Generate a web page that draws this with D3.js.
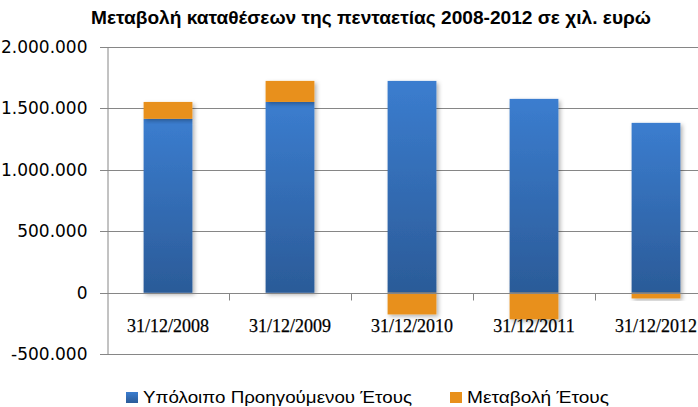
<!DOCTYPE html>
<html>
<head>
<meta charset="utf-8">
<script src="https://cdn.jsdelivr.net/npm/d3@7"></script>
<style>
  body { margin: 0; background: #fff; }
  svg { display: block; }
</style>
</head>
<body>
<div id="chart"></div>
<script>
// values (thousands of euro)
const dates = ["31/12/2008", "31/12/2009", "31/12/2010", "31/12/2011", "31/12/2012"];
const prevBalance = [1414000, 1551000, 1722000, 1576000, 1381000];
const yearChange = [137000, 171000, -176000, -216000, -46000];
const yTicks = [-500000, 0, 500000, 1000000, 1500000, 2000000];
const seriesNames = ["Υπόλοιπο Προηγούμενου Έτους", "Μεταβολή Έτους"];
const title = "Μεταβολή καταθέσεων της πενταετίας 2008-2012 σε χιλ. ευρώ";

const W = 698, H = 407;
const svg = d3.select("#chart").append("svg").attr("width", W).attr("height", H);

const defs = svg.append("defs");
const grad = defs.append("linearGradient").attr("id", "blueGrad")
    .attr("x1", 0).attr("y1", 0).attr("x2", 0).attr("y2", 1);
grad.append("stop").attr("offset", "0%").attr("stop-color", "#3b7dcf");
grad.append("stop").attr("offset", "100%").attr("stop-color", "#2b5b98");

const shadow = defs.append("filter").attr("id", "shadow")
    .attr("x", "-20%").attr("y", "-20%").attr("width", "150%").attr("height", "150%");
shadow.append("feDropShadow").attr("dx", 2).attr("dy", 2).attr("stdDeviation", 2)
    .attr("flood-color", "#000").attr("flood-opacity", 0.3);

// plot area (right end is cut off by the picture edge)
const plotLeft = 107, plotRight = 717, plotTop = 46.7, plotBottom = 354.3;

const x = d3.scaleBand().domain(dates).range([plotLeft, plotRight]).paddingInner(0.6).paddingOuter(0.3);
const y = d3.scaleLinear().domain([-500000, 2000000]).range([plotBottom, plotTop]);

const fmt = d => d3.format(",")(d).replace(/,/g, ".").replace("−", "-");

// grid lines
svg.append("g").selectAll("line").data(yTicks).join("line")
    .attr("x1", plotLeft - 7).attr("x2", W)
    .attr("y1", d => Math.round(y(d)) + 0.5).attr("y2", d => Math.round(y(d)) + 0.5)
    .attr("stroke", "#868686").attr("stroke-width", 1);

// y axis
const yAxis = svg.append("g").attr("transform", `translate(${plotLeft + 0.5},0)`)
    .call(d3.axisLeft(y).tickValues(yTicks).tickFormat(fmt).tickSize(0).tickPadding(20));
yAxis.select(".domain").attr("stroke", "#868686");
yAxis.selectAll("text")
    .attr("font-family", "DejaVu Sans").attr("font-size", 17).attr("fill", "#000");

// stacked bars
const rows = dates.map((d, i) => ({date: d, prev: prevBalance[i], change: yearChange[i]}));
const stack = d3.stack().keys(["prev", "change"]).offset(d3.stackOffsetDiverging);
const series = stack(rows);
const colors = ["url(#blueGrad)", "#e8901b"];

svg.append("g").selectAll("g").data(series).join("g")
    .attr("fill", (d, i) => colors[i])
    .selectAll("rect").data(d => d).join("rect")
    .attr("filter", "url(#shadow)")
    .attr("x", d => x(d.data.date))
    .attr("width", x.bandwidth())
    .attr("y", d => y(Math.max(d[0], d[1])))
    .attr("height", d => Math.abs(y(d[0]) - y(d[1])));

// zero line with category ticks
const xAxis = svg.append("g").attr("transform", `translate(0,${Math.round(y(0)) + 0.5})`)
    .call(d3.axisBottom(x).tickSize(0).tickPadding(26));
xAxis.select(".domain").attr("stroke", "#868686").attr("d", `M${plotLeft},0H${W}`);
xAxis.selectAll("text")
    .attr("font-family", "Liberation Serif").attr("font-size", 18).attr("fill", "#000")
    .attr("stroke", "#000").attr("stroke-width", 0.25);
const bounds = d3.range(1, dates.length).map(i => x(dates[i]) - x.step() * x.paddingInner() / 2);
xAxis.selectAll("line.sep").data(bounds).join("line").attr("class", "sep")
    .attr("x1", d => Math.round(d) + 0.5).attr("x2", d => Math.round(d) + 0.5)
    .attr("y1", 0).attr("y2", 7).attr("stroke", "#868686");

// title
svg.append("text").attr("x", 371).attr("y", 24).attr("text-anchor", "middle")
    .attr("font-family", "Liberation Sans").attr("font-weight", "bold").attr("font-size", 19)
    .attr("textLength", 560).attr("lengthAdjust", "spacingAndGlyphs")
    .text(title);

// legend
const legend = svg.append("g");
const legendX = [126, 450];
const legendW = [269, 142];
const legendColors = ["url(#blueGrad)", "#e8901b"];
seriesNames.forEach((name, i) => {
    legend.append("rect").attr("x", legendX[i]).attr("y", 392).attr("width", 12).attr("height", 11)
        .attr("fill", legendColors[i]);
    legend.append("text").attr("x", legendX[i] + 17).attr("y", 403)
        .attr("font-family", "Liberation Sans").attr("font-size", 16.5).attr("fill", "#000")
        .attr("textLength", legendW[i]).attr("lengthAdjust", "spacingAndGlyphs")
        .text(name);
});
</script>
</body>
</html>
